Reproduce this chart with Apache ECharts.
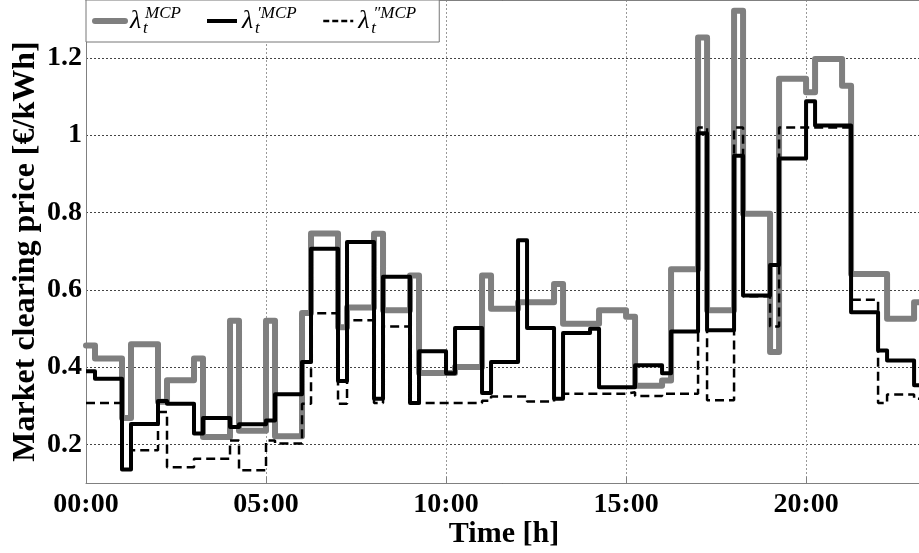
<!DOCTYPE html>
<html>
<head>
<meta charset="utf-8">
<script src="https://cdn.jsdelivr.net/npm/echarts@6/dist/echarts.min.js"></script>
<style>
  html, body { margin: 0; padding: 0; background: #fff; }
  #chart { width: 919px; height: 553px; }
</style>
</head>
<body>
<div id="chart"></div>
<script>
// step change times [h] and prices [€/kWh]
const mcpTimes = [0, 0.25, 1, 1.25, 2, 2.25, 3, 3.25, 4, 4.25, 5, 5.25, 6, 6.25, 7, 7.25, 8, 8.25, 9, 9.25,
  10.25, 11, 11.25, 12, 13, 13.25, 14.25, 15, 15.25, 16, 16.25, 17, 17.25, 18, 18.25, 19, 19.25, 20, 20.25,
  21, 21.25, 22.25, 23, 24]
const mcpValues = [0.456, 0.422, 0.268, 0.459, 0.31, 0.366, 0.422, 0.219, 0.52, 0.235, 0.52, 0.221, 0.54, 0.746,
  0.503, 0.554, 0.745, 0.547, 0.637, 0.385, 0.40, 0.637, 0.551, 0.568, 0.615, 0.512, 0.547, 0.53, 0.352, 0.365,
  0.653, 1.253, 0.547, 1.322, 0.797, 0.439, 1.146, 1.111, 1.197, 1.128, 0.641, 0.525, 0.568, 0.568]

const mcp1Times = [0, 0.25, 1, 1.25, 2, 2.25, 3, 3.25, 4, 4.25, 5, 5.25, 6, 6.25, 7, 7.25, 8, 8.25, 9, 9.25,
  10, 10.25, 11, 11.25, 12, 12.25, 13, 13.25, 14, 14.25, 15.25, 16, 16.25, 17, 17.25, 18, 18.25, 19, 19.25,
  20, 20.25, 21.25, 22, 22.25, 23, 24]
const mcp1Values = [0.389, 0.37, 0.135, 0.253, 0.312, 0.305, 0.228, 0.268, 0.245, 0.252, 0.262, 0.33, 0.413,
  0.706, 0.364, 0.724, 0.318, 0.634, 0.307, 0.441, 0.384, 0.501, 0.333, 0.413, 0.728, 0.501, 0.318, 0.488,
  0.499, 0.348, 0.405, 0.384, 0.492, 1.005, 0.495, 0.947, 0.585, 0.664, 0.94, 1.088, 1.025, 0.542, 0.443,
  0.417, 0.353, 0.353]

const mcp2Times = [0, 1, 1.25, 2, 2.25, 3, 4, 4.25, 5, 5.25, 6, 6.25, 7, 7.25, 8, 8.25, 9, 11, 11.25, 12.25,
  13, 13.25, 15, 15.25, 16, 17, 17.25, 18, 18.25, 19, 19.25, 21.25, 22, 22.25, 23, 24]
const mcp2Values = [0.307, 0.135, 0.185, 0.284, 0.141, 0.163, 0.21, 0.133, 0.21, 0.202, 0.305, 0.539, 0.305,
  0.521, 0.307, 0.505, 0.307, 0.313, 0.324, 0.311, 0.318, 0.331, 0.335, 0.325, 0.331, 1.02, 0.314, 1.02,
  0.583, 0.505, 1.02, 0.574, 0.307, 0.329, 0.318, 0.318]

const xTickHours = [0, 5, 10, 15, 20]

const serif = 'Liberation Serif'
const pad2 = (n) => (n < 10 ? '0' : '') + n

const zip = (ts, vs) => ts.map((t, i) => [t, vs[i]])

const chart = echarts.init(document.getElementById('chart'))

// legend labels: λ with subscript t and superscript MCP
const legendText = {
  'λMCP': '{l|λ}{t|t}{s1|MCP}',
  'λ′MCP': '{l|λ}{t|t}{s2|′MCP}',
  'λ″MCP': '{l|λ}{t|t}{s3|″MCP}'
}
const supStyle = {
  fontFamily: serif, fontStyle: 'italic', fontSize: 17, color: '#000',
  lineHeight: 17, verticalAlign: 'top', align: 'left'
}
const hideSymbol = { opacity: 0, borderWidth: 0 }

const option = {
  animation: false,
  grid: { left: 86, top: 0, right: -3, bottom: 70, outerBoundsMode: 'none', containLabel: false },
  legend: {
    left: 86,
    top: 0,
    orient: 'horizontal',
    padding: [5, 6, 5, 6],
    itemGap: 8,
    itemWidth: 30,
    itemHeight: 14,
    backgroundColor: '#fff',
    borderColor: '#777',
    borderWidth: 1,
    borderRadius: 0,
    data: [
      { name: 'λMCP', itemStyle: hideSymbol, lineStyle: { width: 6, color: '#7f7f7f' } },
      { name: 'λ′MCP', itemStyle: hideSymbol, lineStyle: { width: 4, color: '#000' } },
      { name: 'λ″MCP', itemStyle: hideSymbol, lineStyle: { width: 2.5, color: '#000', type: [6, 3] } }
    ],
    formatter: (name) => legendText[name],
    textStyle: {
      rich: {
        l: { fontFamily: serif, fontStyle: 'italic', fontSize: 26, color: '#000', lineHeight: 32, width: 13 },
        t: { fontFamily: serif, fontStyle: 'italic', fontSize: 17, color: '#000', lineHeight: 14,
          verticalAlign: 'bottom', width: 2 },
        s1: Object.assign({}, supStyle, { width: 52 }),
        s2: Object.assign({}, supStyle, { width: 57 }),
        s3: Object.assign({}, supStyle, { width: 60 })
      }
    }
  },
  xAxis: [
    {
      type: 'value',
      min: 0,
      max: 23.22,
      interval: 5,
      name: 'Time [h]',
      nameLocation: 'middle',
      nameGap: 36,
      nameMoveOverlap: false,
      nameTextStyle: { fontFamily: serif, fontWeight: 'bold', fontSize: 30, color: '#000' },
      axisLine: { lineStyle: { color: '#808080', width: 1 } },
      axisTick: { inside: true, length: 6, lineStyle: { color: '#808080' } },
      axisLabel: {
        margin: 8,
        fontFamily: serif,
        fontWeight: 'bold',
        fontSize: 28,
        color: '#000',
        showMaxLabel: false,
        formatter: (v) => (xTickHours.indexOf(v) >= 0 ? pad2(v) + ':00' : '')
      },
      splitLine: { show: true, lineStyle: { color: '#999', width: 1, type: [2, 2] } }
    },
    {
      type: 'value',
      position: 'top',
      min: 0,
      max: 23.22,
      interval: 5,
      axisLine: { show: true, onZero: false, lineStyle: { color: '#808080', width: 1 } },
      axisTick: { show: false },
      axisLabel: { show: false },
      splitLine: { show: false }
    }
  ],
  yAxis: {
    type: 'value',
    min: 0.1,
    max: 1.35,
    splitNumber: 6,
    minInterval: 0.2,
    maxInterval: 0.2,
    name: 'Market clearing price [€/kWh]',
    nameLocation: 'middle',
    nameGap: 44,
    nameMoveOverlap: false,
    nameTextStyle: { fontFamily: serif, fontWeight: 'bold', fontSize: 32, color: '#000', padding: [0, 20, 0, 0] },
    axisLine: { show: true, lineStyle: { color: '#808080', width: 1 } },
    axisTick: { show: false },
    axisLabel: {
      margin: 4,
      fontFamily: serif,
      fontWeight: 'bold',
      fontSize: 28,
      color: '#000',
      showMinLabel: false,
      showMaxLabel: false
    },
    splitLine: { show: true, lineStyle: { color: '#444', width: 1, type: [2, 2] } }
  },
  series: [
    {
      name: 'λMCP',
      type: 'line',
      step: 'end',
      symbol: 'none',
      data: zip(mcpTimes, mcpValues),
      lineStyle: { color: '#7f7f7f', width: 6, join: 'round', cap: 'round' },
      itemStyle: { color: '#7f7f7f' }
    },
    {
      name: 'λ′MCP',
      type: 'line',
      step: 'end',
      symbol: 'none',
      data: zip(mcp1Times, mcp1Values),
      lineStyle: { color: '#000', width: 4, join: 'round' },
      itemStyle: { color: '#000' }
    },
    {
      name: 'λ″MCP',
      type: 'line',
      step: 'end',
      symbol: 'none',
      data: zip(mcp2Times, mcp2Values),
      lineStyle: { color: '#000', width: 2.5, type: [9, 5] },
      itemStyle: { color: '#000' }
    }
  ]
}

chart.setOption(option)
</script>
</body>
</html>
